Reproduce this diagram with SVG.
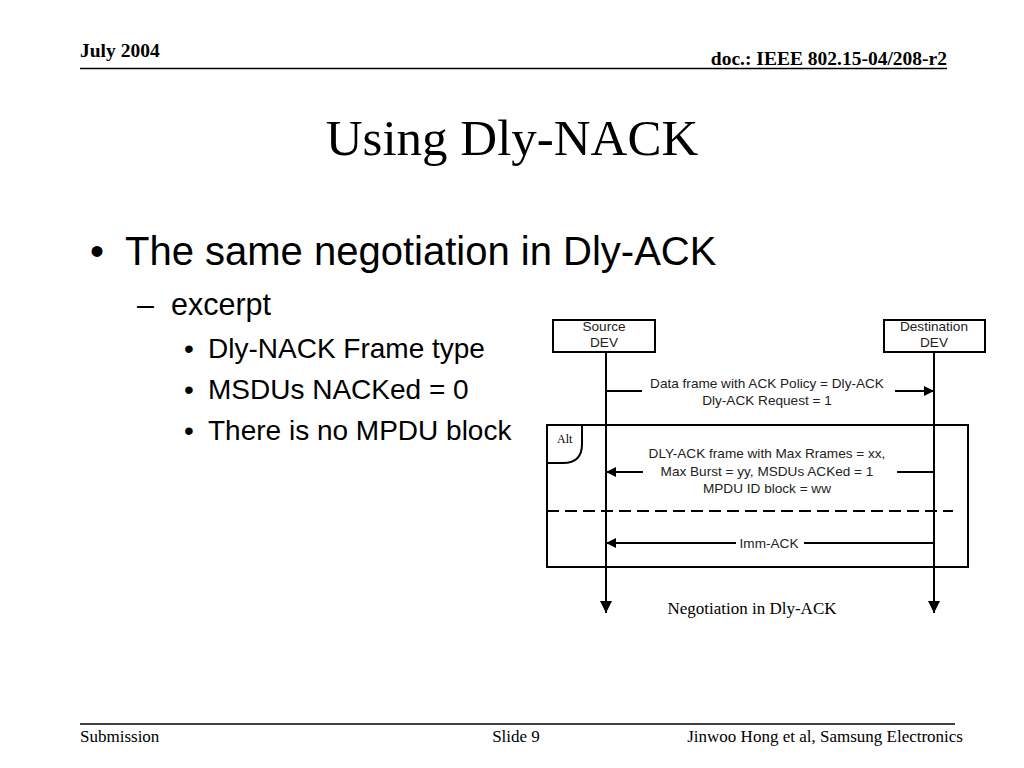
<svg xmlns="http://www.w3.org/2000/svg" width="1024" height="768" viewBox="0 0 1024 768">
<style>
.hdr{font-family:"Liberation Serif","Times New Roman",serif;font-weight:bold;font-size:19.5px;fill:#000}
.ftr{font-family:"Liberation Serif","Times New Roman",serif;font-size:17px;fill:#000}
.title{font-family:"Liberation Serif","Times New Roman",serif;font-size:51px;fill:#000}
.b1{font-family:"Liberation Sans",Arial,sans-serif;font-size:40px;fill:#000}
.b2{font-family:"Liberation Sans",Arial,sans-serif;font-size:30.5px;fill:#000}
.b3{font-family:"Liberation Sans",Arial,sans-serif;font-size:28px;fill:#000}
.d{font-family:"Liberation Sans",Arial,sans-serif;font-size:13.6px;fill:#222}
.line{stroke:#000;stroke-width:2;fill:none}
.cap{font-family:"Liberation Serif","Times New Roman",serif;font-size:17px;fill:#000}
</style>
<defs>
<marker id="ah" viewBox="0 0 10 10" refX="10" refY="5" markerWidth="17" markerHeight="10" markerUnits="userSpaceOnUse" orient="auto">
<path d="M0,0 L10,5 L0,10 Z" fill="#000"/>
</marker>
<marker id="ahd" viewBox="0 0 10 10" refX="10" refY="5" markerWidth="14" markerHeight="12" markerUnits="userSpaceOnUse" orient="auto">
<path d="M0,0 L10,5 L0,10 Z" fill="#000"/>
</marker>
</defs>
<rect width="1024" height="768" fill="#fff"/>
<g id="header">
<text class="hdr" x="80" y="57">July 2004</text>
<text class="hdr" x="947" y="65" text-anchor="end">doc.: IEEE 802.15-04/208-r2</text>
<line x1="80" y1="68.5" x2="947" y2="68.5" stroke="#000" stroke-width="1.5"/>
</g>
<text class="title" x="512" y="155" text-anchor="middle">Using Dly-NACK</text>
<g id="bullets">
<text class="b1" x="90" y="265">•</text>
<text class="b1" x="125" y="265">The same negotiation in Dly-ACK</text>
<text class="b2" x="137" y="315">–</text>
<text class="b2" x="171" y="315">excerpt</text>
<text class="b3" x="184" y="358">•</text>
<text class="b3" x="208" y="358">Dly-NACK Frame type</text>
<text class="b3" x="184" y="399">•</text>
<text class="b3" x="208" y="399">MSDUs NACKed = 0</text>
<text class="b3" x="184" y="440">•</text>
<text class="b3" x="208" y="440">There is no MPDU block</text>
</g>
<g id="source">
<rect x="553" y="320" width="102" height="32" class="line" fill="#fff"/>
<text class="d" x="604" y="331" text-anchor="middle">Source</text>
<text class="d" x="604" y="347" text-anchor="middle">DEV</text>
</g>
<g id="destination">
<rect x="884" y="320" width="101" height="32" class="line" fill="#fff"/>
<text class="d" x="934" y="331" text-anchor="middle">Destination</text>
<text class="d" x="934" y="347" text-anchor="middle">DEV</text>
</g>
<g id="alt-frame">
<rect x="547" y="425" width="421" height="142" class="line"/>
<path d="M582,425 L582,444 Q582,463 563,463 L547,463" class="line"/>
<text x="557" y="443" font-family="Liberation Serif,Times New Roman,serif" font-size="12" fill="#000">Alt</text>
<line x1="547" y1="511" x2="953" y2="511" stroke="#000" stroke-width="2" stroke-dasharray="12,6"/>
</g>
<g id="connectors">
<line x1="606" y1="352" x2="606" y2="613" class="line" marker-end="url(#ahd)"/>
<line x1="934" y1="352" x2="934" y2="613" class="line" marker-end="url(#ahd)"/>
<line x1="606" y1="391" x2="642" y2="391" class="line"/>
<line x1="895" y1="391" x2="934" y2="391" class="line" marker-end="url(#ah)"/>
<line x1="934" y1="472" x2="897" y2="472" class="line"/>
<line x1="643" y1="472" x2="606" y2="472" class="line" marker-end="url(#ah)"/>
<line x1="934" y1="543" x2="804" y2="543" class="line"/>
<line x1="736" y1="543" x2="606" y2="543" class="line" marker-end="url(#ah)"/>
</g>
<g id="labels">
<text class="d" x="767" y="388" text-anchor="middle">Data frame with ACK Policy = Dly-ACK</text>
<text class="d" x="767" y="405" text-anchor="middle">Dly-ACK Request = 1</text>
<text class="d" x="767" y="458" text-anchor="middle">DLY-ACK frame with Max Rrames = xx,</text>
<text class="d" x="767" y="476" text-anchor="middle">Max Burst = yy, MSDUs ACKed = 1</text>
<text class="d" x="767" y="493" text-anchor="middle">MPDU ID block = ww</text>
<text class="d" x="769" y="548" text-anchor="middle">Imm-ACK</text>
</g>
<text class="cap" x="752" y="614" text-anchor="middle">Negotiation in Dly-ACK</text>
<g id="footer">
<line x1="80" y1="724" x2="955" y2="724" stroke="#000" stroke-width="1.5"/>
<text class="ftr" x="80" y="742">Submission</text>
<text class="ftr" x="516" y="742" text-anchor="middle">Slide 9</text>
<text class="ftr" x="963" y="742" text-anchor="end">Jinwoo Hong et al, Samsung Electronics</text>
</g>
</svg>
